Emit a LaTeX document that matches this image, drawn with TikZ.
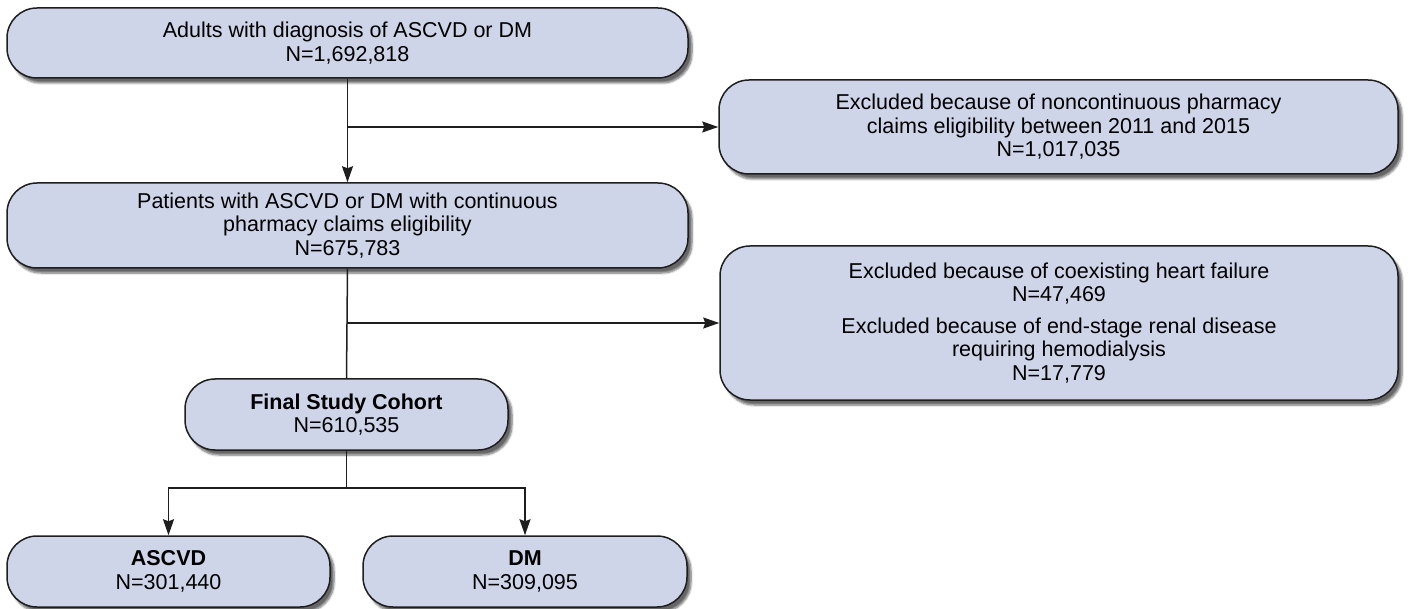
\documentclass[tikz,border=0pt]{standalone}
\usepackage{fontspec}
\setmainfont{Liberation Sans}
\usetikzlibrary{arrows.meta,shadows.blur}
\definecolor{boxfill}{RGB}{207,213,232}
\definecolor{edge}{RGB}{30,30,30}
\tikzset{
  flowbox/.style={draw=edge, line width=1.5pt, fill=boxfill, rounded corners=30pt,
    align=center, inner sep=0pt,
    font=\fontsize{21.5}{23.5}\selectfont,
    blur shadow={shadow xshift=4pt, shadow yshift=-5pt, shadow blur steps=6, shadow opacity=60}},
  link/.style={draw=edge, line width=1.5pt},
  arr/.style={link, -{Stealth[length=16pt,width=11pt,inset=2pt]}}
}
\begin{document}
\begin{tikzpicture}[x=1pt,y=-1pt]
\useasboundingbox (0,0) rectangle (1408,609);
\node[flowbox, minimum width=681pt, minimum height=70pt] (A) at (347.5,43)
  {Adults with diagnosis of ASCVD or DM\\N=1,692,818};
\node[flowbox, minimum width=679pt, minimum height=94pt] (B) at (1058.5,127)
  {Excluded because of noncontinuous pharmacy\\claims eligibility between 2011 and 2015\\N=1,017,035};
\node[flowbox, minimum width=681pt, minimum height=85pt] (C) at (347.5,225.5)
  {Patients with ASCVD or DM with continuous\\pharmacy claims eligibility\\N=675,783};
\node[flowbox, minimum width=678pt, minimum height=154pt] (D) at (1059,323)
  {Excluded because of coexisting heart failure\\N=47,469\\[8pt]Excluded because of end-stage renal disease\\requiring hemodialysis\\N=17,779};
\node[flowbox, minimum width=323pt, minimum height=71pt] (E) at (346.5,414.5)
  {\textbf{Final Study Cohort}\\N=610,535};
\node[flowbox, minimum width=323pt, minimum height=71pt] (F) at (168.5,571.5)
  {\textbf{ASCVD}\\N=301,440};
\node[flowbox, minimum width=324pt, minimum height=71pt] (G) at (525,571.5)
  {\textbf{DM}\\N=309,095};
\draw[arr] (A.south) -- (C.north);
\draw[arr] (A.south |- B.west) -- (B.west);
\draw[link] (C.south) -- (E.north);
\draw[arr] (C.south |- D.west) -- (D.west);
\draw[link] (E.south) -- ++(0,37) coordinate (J);
\draw[arr] (J) -| (F.north);
\draw[arr] (J) -| (G.north);
\end{tikzpicture}
\end{document}
